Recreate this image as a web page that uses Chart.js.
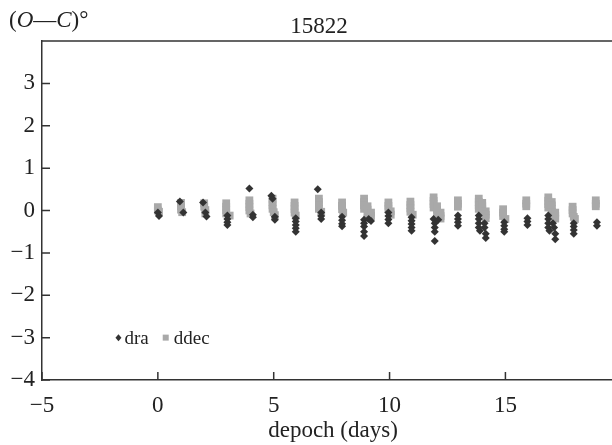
<!DOCTYPE html>
<html>
<head>
<meta charset="utf-8">
<script src="https://cdn.jsdelivr.net/npm/chart.js@4.4.1/dist/chart.umd.min.js"></script>
<style>
  html, body { margin: 0; padding: 0; background: #fff; }
  #wrap { width: 612px; height: 445px; }
</style>
</head>
<body>
<div id="wrap"><canvas id="oc-chart"></canvas></div>
<script>
// values (days, degrees)
const draX = [0.0, 0.05, 0.95, 1.1, 1.95, 2.05, 2.1, 3.0, 3.0, 3.0, 3.0,
  3.95, 4.1, 4.1, 4.9, 4.95, 5.05, 5.05, 5.95, 5.95, 5.95, 5.95, 5.95,
  6.9, 7.05, 7.05, 7.05, 7.95, 7.95, 7.95, 7.95,
  8.9, 8.9, 8.9, 8.9, 8.9, 9.1, 9.2, 9.95, 9.95, 9.95, 9.95,
  10.95, 10.95, 10.95, 10.95, 10.95, 11.9, 11.95, 11.95, 11.95, 11.95, 12.1,
  12.95, 12.95, 12.95, 12.95,
  13.85, 13.85, 13.85, 13.85, 13.9, 14.1, 14.1, 14.15, 14.15,
  14.95, 14.95, 14.95, 14.95, 15.95, 15.95, 15.95,
  16.85, 16.85, 16.85, 16.85, 16.9, 17.05, 17.1, 17.15, 17.15,
  17.95, 17.95, 17.95, 17.95, 18.95, 18.95];
const draY = [-0.05, -0.13, 0.21, -0.05, 0.19, -0.05, -0.14, -0.12, -0.2, -0.28, -0.34,
  0.52, -0.1, -0.16, 0.35, 0.28, -0.15, -0.22, -0.18, -0.26, -0.34, -0.42, -0.5,
  0.5, -0.05, -0.13, -0.2, -0.15, -0.23, -0.31, -0.37,
  -0.22, -0.3, -0.38, -0.5, -0.6, -0.2, -0.25, -0.05, -0.13, -0.21, -0.3,
  -0.16, -0.24, -0.32, -0.4, -0.48, -0.2, -0.3, -0.4, -0.5, -0.72, -0.22,
  -0.12, -0.2, -0.28, -0.36,
  -0.12, -0.2, -0.3, -0.4, -0.48, -0.3, -0.4, -0.55, -0.65,
  -0.28, -0.36, -0.44, -0.5, -0.18, -0.26, -0.34,
  -0.12, -0.2, -0.3, -0.4, -0.48, -0.3, -0.4, -0.55, -0.68,
  -0.3, -0.38, -0.46, -0.55, -0.28, -0.36];

const ddecX = [0, 0, 0.05, 1, 1, 1, 1.05, 2, 2, 2.05, 2.05,
  2.95, 2.95, 2.95, 2.95, 3.1, 3.95, 3.95, 3.95, 3.95, 4.0,
  4.95, 4.95, 4.95, 4.95, 5.0, 5.05, 5.9, 5.9, 5.9, 5.9, 5.95,
  6.95, 6.95, 6.95, 6.95, 7.05, 7.95, 7.95, 7.95, 8.0,
  8.9, 8.9, 8.9, 8.9, 9.05, 9.05, 9.05, 9.2, 9.2, 9.05,
  9.95, 9.95, 9.95, 10.05, 10.05, 10.9, 10.9, 10.9, 10.9, 11.0,
  11.9, 11.9, 11.9, 11.9, 12.05, 12.05, 12.05, 12.2, 12.2, 12.2,
  12.95, 12.95, 12.95,
  13.85, 13.85, 13.85, 13.85, 14.0, 14.0, 14.0, 14.0, 14.15, 14.15, 14.15,
  14.9, 14.9, 14.9, 15.0, 15.9, 15.9, 15.9,
  16.85, 16.85, 16.85, 16.85, 17.0, 17.0, 17.0, 17.0, 17.15, 17.15, 17.15,
  17.9, 17.9, 17.9, 17.95, 18.0, 18.9, 18.9, 18.9];
const ddecY = [0.08, 0.0, -0.03, 0.18, 0.1, 0.02, -0.04, 0.17, 0.09, 0.01, -0.07,
  0.17, 0.09, 0.01, -0.07, -0.12, 0.24, 0.16, 0.08, 0.0, -0.07,
  0.28, 0.2, 0.12, 0.04, -0.04, -0.11, 0.19, 0.11, 0.03, -0.05, -0.12,
  0.28, 0.2, 0.12, 0.04, -0.03, 0.19, 0.11, 0.03, -0.05,
  0.28, 0.2, 0.12, 0.04, 0.1, 0.02, -0.06, -0.05, -0.13, -0.18,
  0.19, 0.11, 0.03, -0.02, -0.1, 0.21, 0.13, 0.05, -0.03, -0.1,
  0.31, 0.23, 0.15, 0.07, 0.1, 0.02, -0.06, -0.05, -0.13, -0.19,
  0.24, 0.16, 0.09,
  0.28, 0.2, 0.12, 0.04, 0.18, 0.1, 0.02, -0.06, -0.02, -0.1, -0.18,
  0.03, -0.05, -0.13, -0.2, 0.24, 0.16, 0.1,
  0.31, 0.23, 0.15, 0.07, 0.2, 0.12, 0.04, -0.04, -0.05, -0.13, -0.19,
  0.09, 0.01, -0.07, -0.15, -0.2, 0.24, 0.16, 0.1];

const xTicks = [-5, 0, 5, 10, 15];
const yTicks = [-4, -3, -2, -1, 0, 1, 2, 3];

const seriesNames = ['dra', 'ddec'];
const darkColor = '#333333';
const grayColor = '#a9a9a9';
const serif = '"Liberation Serif", "DejaVu Serif", serif';

function toPoints(xs, ys) {
    return xs.map((x, i) => ({ x: x, y: ys[i] }));
}

function minusLabel(v) {
    return v < 0 ? '\u2212' + Math.abs(v) : String(v);
}

// frame top line, inward ticks, titles and the little legend
const decorations = {
    id: 'decorations',
    afterDraw(chart) {
        const ctx = chart.ctx;
        const area = chart.chartArea;
        const xs = chart.scales.x;
        const ys = chart.scales.y;
        ctx.save();
        ctx.strokeStyle = darkColor;
        ctx.lineWidth = 1.5;
        ctx.beginPath();
        ctx.moveTo(area.left, area.top);
        ctx.lineTo(area.right, area.top);
        xTicks.forEach(v => {
            const px = xs.getPixelForValue(v);
            ctx.moveTo(px, area.bottom);
            ctx.lineTo(px, area.bottom - 8);
        });
        yTicks.forEach(v => {
            const py = ys.getPixelForValue(v);
            ctx.moveTo(area.left, py);
            ctx.lineTo(area.left + 8, py);
        });
        ctx.stroke();

        ctx.fillStyle = '#222';
        ctx.textBaseline = 'alphabetic';
        ctx.textAlign = 'center';
        ctx.font = '23px ' + serif;
        ctx.fillText('15822', 319, 33);
        ctx.fillText('depoch (days)', 333, 437);

        // "(O-C)°" with italic letters
        const parts = [['(', false], ['O', true], ['\u2014', false], ['C', true], [')\u00b0', false]];
        let tx = 9;
        ctx.textAlign = 'left';
        parts.forEach(p => {
            ctx.font = (p[1] ? 'italic ' : '') + '23px ' + serif;
            ctx.fillText(p[0], tx, 27);
            tx += ctx.measureText(p[0]).width;
        });

        // legend
        const ly = ys.getPixelForValue(-3);
        const lx = xs.getPixelForValue(-1.7);
        ctx.fillStyle = darkColor;
        ctx.beginPath();
        ctx.moveTo(lx, ly - 3.5);
        ctx.lineTo(lx + 3, ly);
        ctx.lineTo(lx, ly + 3.5);
        ctx.lineTo(lx - 3, ly);
        ctx.closePath();
        ctx.fill();
        ctx.font = '19px ' + serif;
        ctx.fillStyle = '#222';
        ctx.fillText(seriesNames[0], lx + 6, ly + 6);
        const sx = lx + 6 + ctx.measureText(seriesNames[0]).width + 17;
        ctx.fillStyle = grayColor;
        ctx.fillRect(sx - 3, ly - 3, 6, 6);
        ctx.fillStyle = '#222';
        ctx.fillText(seriesNames[1], sx + 8, ly + 6);
        ctx.restore();
    }
};

const ctx = document.getElementById('oc-chart').getContext('2d');
const chart = new Chart(ctx, {
    type: 'scatter',
    data: {
        datasets: [{
            label: seriesNames[0],
            data: toPoints(draX, draY),
            pointStyle: 'rectRot',
            pointRadius: 4,
            backgroundColor: darkColor,
            borderColor: darkColor,
            borderWidth: 0,
            order: 0
        }, {
            label: seriesNames[1],
            data: toPoints(ddecX, ddecY),
            pointStyle: 'rect',
            pointRadius: 5.5,
            backgroundColor: grayColor,
            borderColor: grayColor,
            borderWidth: 0,
            order: 1
        }]
    },
    options: {
        responsive: true,
        maintainAspectRatio: false,
        animation: false,
        layout: { autoPadding: false, padding: { top: 41, right: 0, left: 0, bottom: 0 } },
        plugins: {
            legend: { display: false },
            tooltip: { enabled: false }
        },
        scales: {
            x: {
                type: 'linear',
                min: -5,
                max: 19.6,
                grid: { display: false, drawTicks: false },
                border: { display: true, color: darkColor, width: 1.5 },
                afterBuildTicks: s => { s.ticks = xTicks.map(v => ({ value: v })); },
                afterFit: s => { s.height = 65; s.paddingRight = 0; s.paddingLeft = 0; },
                ticks: {
                    color: '#222',
                    padding: 12,
                    maxRotation: 0,
                    font: { family: serif, size: 23 },
                    callback: v => minusLabel(v)
                }
            },
            y: {
                min: -4,
                max: 4,
                grid: { display: false, drawTicks: false },
                border: { display: true, color: darkColor, width: 1.5 },
                afterBuildTicks: s => { s.ticks = yTicks.map(v => ({ value: v })); },
                afterFit: s => { s.width = 42; },
                ticks: {
                    color: '#222',
                    padding: 7,
                    font: { family: serif, size: 23 },
                    callback: v => minusLabel(v)
                }
            }
        }
    },
    plugins: [decorations]
});
</script>
</body>
</html>
